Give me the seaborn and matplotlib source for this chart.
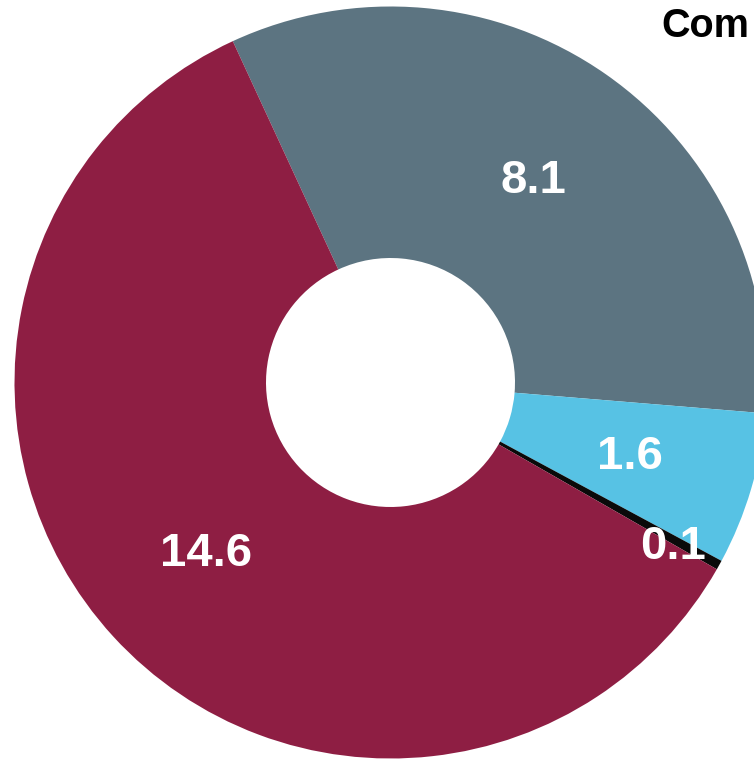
import matplotlib
matplotlib.use("Agg")
import matplotlib.pyplot as plt
import numpy as np
import seaborn as sns

# Composition values, in drawing order (clockwise from the top-left)
categories = ["Segment A", "Segment B", "Segment C", "Segment D"]
values = [8.1, 1.6, 0.1, 14.6]
value_labels = ["8.1", "1.6", "0.1", "14.6"]
colors = ["#5C7481", "#57C2E4", "#0A0A0A", "#8E1E43"]
title_text = "Com"

sns.set_theme(style="white")
plt.rcParams["font.family"] = ["Liberation Sans", "DejaVu Sans"]

W, H = 754, 760
fig = plt.figure(figsize=(W / 100, H / 100), dpi=100)
ax = fig.add_axes([0, 0, 1, 1])

# ring geometry in pixels
cx, cy, R, r_in = 390.5, 382.5, 376.0, 124.5
hole = r_in / R

wedges, _ = ax.pie(
    values,
    colors=colors,
    startangle=114.8,
    counterclock=False,
    radius=1.0,
    wedgeprops=dict(width=1.0 - hole, linewidth=0, antialiased=True),
)

# value labels in the middle of the ring; the tiny slice gets its label further out
dy = -3.0 / R
for i, (w, lab) in enumerate(zip(wedges, value_labels)):
    if values[i] < 0.5:
        ang = np.deg2rad(w.theta1)
        rad = 0.865
    else:
        ang = np.deg2rad((w.theta1 + w.theta2) / 2)
        rad = 0.665
    ax.text(rad * np.cos(ang), rad * np.sin(ang) + dy, lab, color="white",
            fontsize=34, fontweight="bold", ha="center", va="center")

ax.set_xlim(-cx / R, (W - cx) / R)
ax.set_ylim(-(H - cy) / R, cy / R)
ax.set_aspect("auto")
ax.axis("off")

fig.text(661 / W, 1 - 37 / H, title_text, ha="left", va="baseline",
         fontsize=28.5, fontweight="bold", color="black")

fig.savefig("out.png", dpi=100, facecolor="white")
